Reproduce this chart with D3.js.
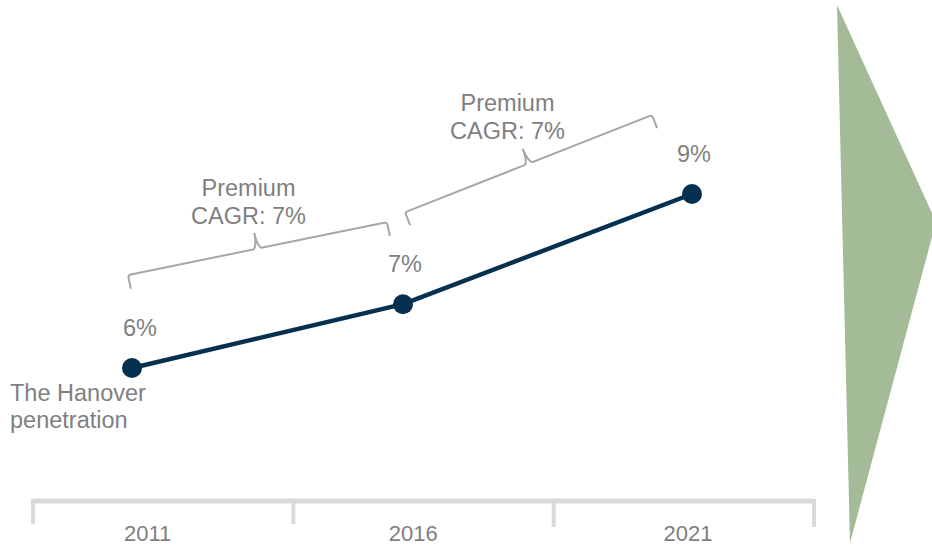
<!DOCTYPE html>
<html>
<head>
<meta charset="utf-8">
<script src="https://cdn.jsdelivr.net/npm/d3@7"></script>
<style>
  body { margin: 0; background: #fff; }
  svg { display: block; font-family: Arial, "Liberation Sans", sans-serif; }
</style>
</head>
<body>
<svg id="grafico" width="932" height="546"></svg>
<script>
const anos = [2011, 2016, 2021];
const penetracao = [6.0, 7.1, 9.0];
const rotulos_valor = ["6%", "7%", "9%"];
const rotulos_eixo = ["2011", "2016", "2021"];
const rotulo_serie = ["The Hanover", "penetration"];
const chaves = [[2011, 2016], [2016, 2021]];
const rotulos_chave = [["Premium", "CAGR: 7%"], ["Premium", "CAGR: 7%"]];

const cinza_texto = "#7f7f7f";
const azul = "#06304f";
const tam_fonte = 23.5;
const svg = d3.select("#grafico");

const x = d3.scaleLinear().domain(anos).range([132, 403, 692]);
const y = d3.scaleLinear().domain([6, 9]).range([368, 194]);
const x_eixo = d3.scaleBand().domain(rotulos_eixo).range([33, 814]);

// seta verde a direita
const defs = svg.append("defs");
defs.append("filter").attr("id", "sombra")
  .append("feGaussianBlur").attr("stdDeviation", 0.7);
svg.append("path")
  .attr("d", "M837,5 L936,222 L850,543 Z")
  .attr("fill", "#a3bb96")
  .attr("filter", "url(#sombra)");

// eixo
const eixo_y = 501;
svg.append("line")
  .attr("x1", x_eixo.range()[0]).attr("x2", x_eixo.range()[1])
  .attr("y1", eixo_y).attr("y2", eixo_y)
  .attr("stroke", "#d9d9d9").attr("stroke-width", 5);

const limites = rotulos_eixo.map(d => x_eixo(d)).concat([x_eixo.range()[1]]);
svg.selectAll(".tick_eixo")
  .data(limites)
  .enter()
  .append("line")
  .attr("class", "tick_eixo")
  .attr("x1", d => d).attr("x2", d => d)
  .attr("y1", eixo_y - 2).attr("y2", (d, i) => i < 2 ? 524 : 527)
  .attr("stroke", "#d9d9d9").attr("stroke-width", 4);

svg.selectAll(".rotulo_eixo")
  .data(rotulos_eixo)
  .enter()
  .append("text")
  .attr("class", "rotulo_eixo")
  .attr("x", (d, i) => (x_eixo(d) + x_eixo.bandwidth() / 2 + x(anos[i])) / 2)
  .attr("y", 541)
  .attr("text-anchor", "middle")
  .attr("font-size", 22)
  .attr("fill", cinza_texto)
  .text(d => d);

// chaves
function caminho_chave(p0, p1, gancho, bico) {
  const dx = p1[0] - p0[0], dy = p1[1] - p0[1];
  const len = Math.hypot(dx, dy);
  const d = [dx / len, dy / len];
  const n = [-d[1], d[0]];
  const m = [(p0[0] + p1[0]) / 2, (p0[1] + p1[1]) / 2];
  const pt = (b, a, k) => [b[0] + a[0] * k, b[1] + a[1] * k];
  const p = d3.path();
  let a = pt(p0, n, gancho);
  p.moveTo(a[0], a[1]);
  a = pt(p0, n, 3); p.lineTo(a[0], a[1]);
  a = pt(p0, d, 3); p.quadraticCurveTo(p0[0], p0[1], a[0], a[1]);
  a = pt(m, d, -4); p.lineTo(a[0], a[1]);
  let c = pt(m, n, -3);
  a = pt(m, n, -bico); p.quadraticCurveTo(c[0], c[1], a[0], a[1]);
  a = pt(m, d, 4); p.quadraticCurveTo(c[0], c[1], a[0], a[1]);
  a = pt(p1, d, -3); p.lineTo(a[0], a[1]);
  a = pt(p1, n, 3); p.quadraticCurveTo(p1[0], p1[1], a[0], a[1]);
  a = pt(p1, n, gancho); p.lineTo(a[0], a[1]);
  return p.toString();
}

chaves.forEach((par, i) => {
  const i0 = anos.indexOf(par[0]), i1 = anos.indexOf(par[1]);
  const p0 = i == 0 ? [x(par[0]) - 4, y(penetracao[i0]) - 93] : [x(par[0]) + 2, y(penetracao[i0]) - 92];
  const p1 = i == 0 ? [x(par[1]) - 16, y(penetracao[i1]) - 82] : [x(par[1]) - 40, y(penetracao[i1]) - 79];
  svg.append("path")
    .attr("d", caminho_chave(p0, p1, 14, 16))
    .attr("fill", "none")
    .attr("stroke", "#a6a6a6")
    .attr("stroke-width", 2);
  const mx = (p0[0] + p1[0]) / 2 - (i == 0 ? 9 : 21);
  const topo = (p0[1] + p1[1]) / 2 - 16;
  svg.append("text")
    .attr("x", mx)
    .attr("y", topo - 9 - 28)
    .attr("text-anchor", "middle")
    .attr("font-size", tam_fonte)
    .attr("fill", cinza_texto)
    .selectAll("tspan")
    .data(rotulos_chave[i])
    .enter()
    .append("tspan")
    .attr("x", mx)
    .attr("dy", (d, j) => j == 0 ? 0 : 28)
    .text(d => d);
});

// linha
const linha = d3.line().x((d, i) => x(anos[i])).y(d => y(d));
svg.append("path")
  .datum(penetracao)
  .attr("d", linha)
  .attr("fill", "none")
  .attr("stroke", azul)
  .attr("stroke-width", 4.5);

svg.selectAll(".ponto")
  .data(penetracao)
  .enter()
  .append("circle")
  .attr("class", "ponto")
  .attr("cx", (d, i) => x(anos[i]))
  .attr("cy", d => y(d))
  .attr("r", 10)
  .attr("fill", azul);

svg.selectAll(".rotulo_valor")
  .data(penetracao)
  .enter()
  .append("text")
  .attr("class", "rotulo_valor")
  .attr("x", (d, i) => x(anos[i]) + (i == 0 ? 8 : 2))
  .attr("y", d => y(d) - 32)
  .attr("text-anchor", "middle")
  .attr("font-size", tam_fonte)
  .attr("fill", cinza_texto)
  .text((d, i) => rotulos_valor[i]);

svg.append("text")
  .attr("y", 401)
  .attr("font-size", tam_fonte)
  .attr("fill", cinza_texto)
  .selectAll("tspan")
  .data(rotulo_serie)
  .enter()
  .append("tspan")
  .attr("x", 10)
  .attr("dy", (d, j) => j == 0 ? 0 : 27)
  .text(d => d);
</script>
</body>
</html>
